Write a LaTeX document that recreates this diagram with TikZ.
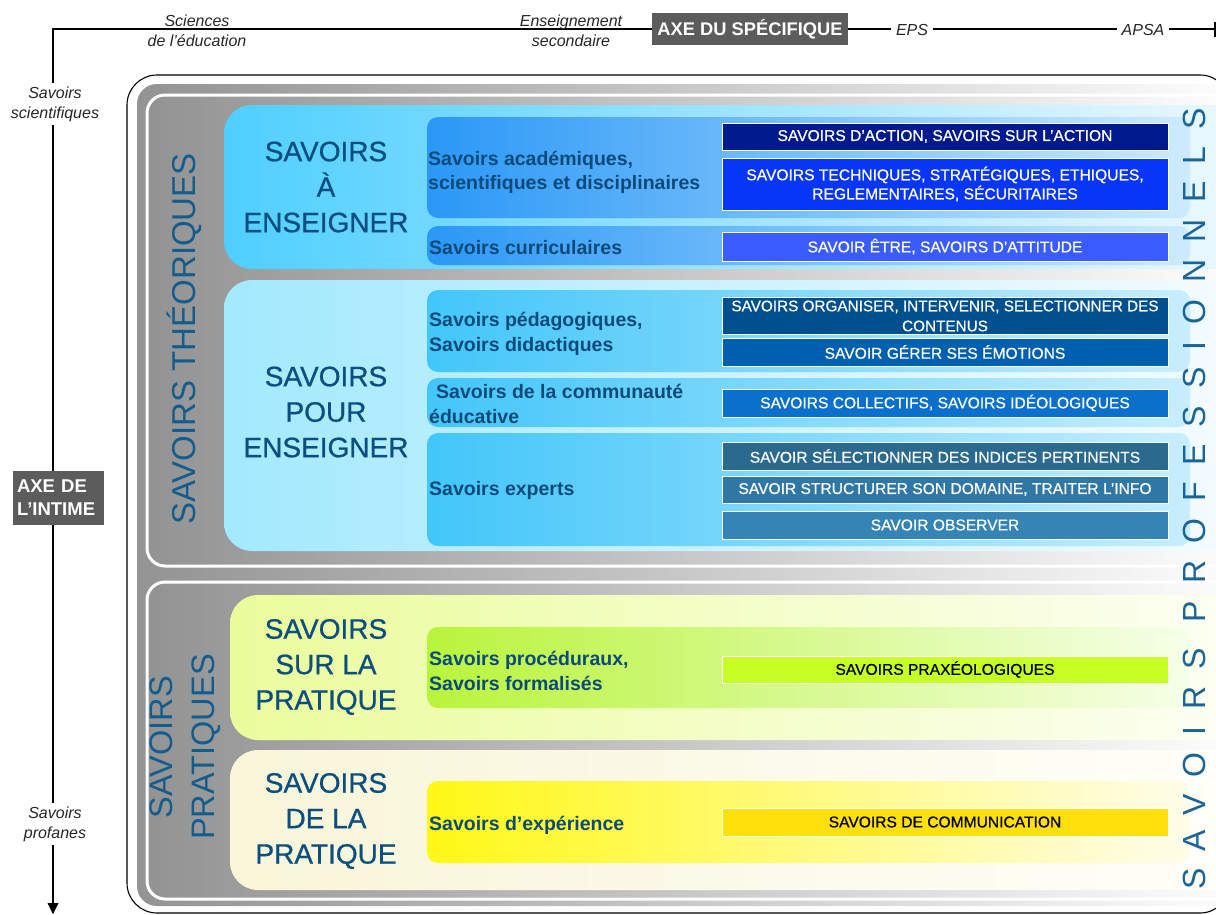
\documentclass[tikz,border=0pt]{standalone}
\usepackage{fontspec}
\setmainfont{Liberation Sans}
\usetikzlibrary{arrows.meta}
\definecolor{tblue}{HTML}{0B4F80}
\definecolor{lblue}{HTML}{0B4A7A}
\definecolor{vblue}{HTML}{125C8E}
\definecolor{pblue}{HTML}{1A6496}
\definecolor{axgray}{HTML}{5C5C5C}
\definecolor{frgray}{HTML}{939393}
\definecolor{bigA}{HTML}{4FCFFF}
\definecolor{bigAr}{HTML}{EEF9FF}
\definecolor{bigB}{HTML}{A3E9FE}
\definecolor{bigBr}{HTML}{F6FCFF}
\definecolor{bigC}{HTML}{EBFC9C}
\definecolor{bigCr}{HTML}{FDFFF4}
\definecolor{bigD}{HTML}{F8F5D8}
\definecolor{bigDr}{HTML}{FFFFFA}
\definecolor{subA}{HTML}{2A98F6}
\definecolor{subAr}{HTML}{CDEBFF}
\definecolor{subB}{HTML}{42C6F9}
\definecolor{subBr}{HTML}{C8EEFF}
\definecolor{subC}{HTML}{B9F43C}
\definecolor{subCr}{HTML}{F6FFE8}
\definecolor{subD}{HTML}{FFF817}
\definecolor{subDr}{HTML}{FFFDEA}
\definecolor{cAct}{HTML}{001A8E}
\definecolor{cTech}{HTML}{0836F8}
\definecolor{cEtre}{HTML}{3A5CFF}
\definecolor{cOrg}{HTML}{005090}
\definecolor{cGer}{HTML}{0060B0}
\definecolor{cColl}{HTML}{0A70CC}
\definecolor{cSel}{HTML}{2A6A8E}
\definecolor{cStr}{HTML}{2F78A6}
\definecolor{cObs}{HTML}{3484B6}
\definecolor{cPrax}{HTML}{C6FF24}
\definecolor{cComm}{HTML}{FFE00C}
\newcommand\myfs[2]{\fontsize{#1}{#2}\selectfont}
\tikzset{
  axisline/.style={line width=1.6pt, black},
  axlab/.style={font=\itshape\myfs{16}{20}, align=center, inner sep=3pt, text=black!85},
  axbox/.style={fill=axgray, text=white, inner sep=0pt},
  bigbox/.style={draw=none, rounded corners=28pt, inner sep=0pt},
  subbox/.style={draw=none, rounded corners=11pt, inner sep=0pt, minimum width=763pt},
  sublab/.style={anchor=west, inner sep=0pt, align=left, text=lblue,
     font=\bfseries\myfs{19.5}{24.5}},
  rbox/.style={draw=white, line width=0.8pt, minimum width=446pt, inner sep=0pt,
     text=white, align=center, font=\myfs{15.6}{19}\addfontfeature{FakeBold=0.6}},
  title/.style={text=tblue, align=center, font=\myfs{28}{35.5}\addfontfeature{FakeBold=0.8}, inner sep=0pt},
  vtitle/.style={text=vblue, align=center, rotate=90, inner sep=0pt},
}
\begin{document}
\begin{tikzpicture}[x=1pt,y=-1pt]
\useasboundingbox (0,0) rectangle (1216,914);
\begin{scope}
\clip (0,0) rectangle (1216,914);
% frames
\node[draw=black, line width=1.1pt, rounded corners=30pt, minimum width=1103pt, minimum height=838pt, inner sep=0pt] (outer) at (678.5,494) {};
\node[draw=none, rounded corners=20pt, minimum width=1113pt, minimum height=822pt, left color=frgray, right color=white, inner sep=0pt] (band) at (693.5,495) {};
\node[draw=white, line width=3pt, rounded corners=18pt, minimum width=1103pt, minimum height=471pt, left color=frgray, right color=white, inner sep=0pt] (theo) at (698.5,330.5) {};
\node[draw=white, line width=3pt, rounded corners=18pt, minimum width=1103pt, minimum height=317pt, left color=frgray, right color=white, inner sep=0pt] (prat) at (698.5,740.5) {};
% big boxes
\node[bigbox, minimum width=1026pt, minimum height=164pt, left color=bigA, right color=bigAr] (aens) at (737,187) {};
\node[bigbox, minimum width=1026pt, minimum height=271pt, left color=bigB, right color=bigBr] (pens) at (737,415.5) {};
\node[bigbox, minimum width=1020pt, minimum height=145pt, left color=bigC, right color=bigCr] (surp) at (740,667.5) {};
\node[bigbox, minimum width=1020pt, minimum height=140pt, left color=bigD, right color=bigDr] (dela) at (740,820) {};
% sub boxes
\node[subbox, minimum height=101pt, left color=subA, right color=subAr] (sacad) at (808.5,167.5) {};
\node[subbox, minimum height=39pt, left color=subA, right color=subAr] (scurr) at (808.5,245.5) {};
\node[subbox, minimum height=82pt, left color=subB, right color=subBr] (sped) at (808.5,331) {};
\node[subbox, minimum height=49pt, left color=subB, right color=subBr] (scomm) at (808.5,402.5) {};
\node[subbox, minimum height=113pt, left color=subB, right color=subBr] (sexp) at (808.5,489.5) {};
\node[subbox, minimum height=81pt, left color=subC, right color=subCr] (sproc) at (808.5,667.5) {};
\node[subbox, minimum height=82pt, left color=subD, right color=subDr] (sexpe) at (808.5,822) {};
% sub box labels
\node[sublab] (lacad) at (428,172.5) {Savoirs académiques,\\scientifiques et disciplinaires};
\node[sublab] (lcurr) at (429,247.5) {Savoirs curriculaires};
\node[sublab] (lped) at (429,334) {Savoirs pédagogiques,\\Savoirs didactiques};
\node[sublab] (lcomm) at (429,404) {\hspace*{7pt}Savoirs de la communauté\\éducative};
\node[sublab] (lexp) at (429,490.5) {Savoirs experts};
\node[sublab] (lproc) at (429,671) {Savoirs procéduraux,\\Savoirs formalisés};
\node[sublab] (lexpe) at (429,825) {Savoirs d’expérience};
% right boxes
\node[rbox, fill=cAct, minimum height=27pt] (ract) at (945,136.5) {SAVOIRS D’ACTION, SAVOIRS SUR L’ACTION};
\node[rbox, fill=cTech, minimum height=52pt] (rtech) at (945,184) {SAVOIRS TECHNIQUES, STRATÉGIQUES, ETHIQUES,\\REGLEMENTAIRES, SÉCURITAIRES};
\node[rbox, fill=cEtre, minimum height=29pt] (retre) at (945,246.5) {SAVOIR ÊTRE, SAVOIRS D’ATTITUDE};
\node[rbox, fill=cOrg, minimum height=37pt, font=\myfs{15.3}{20}\addfontfeature{FakeBold=0.6}] (rorg) at (945,316) {SAVOIRS ORGANISER, INTERVENIR, SELECTIONNER DES\\CONTENUS};
\node[rbox, fill=cGer, minimum height=28pt] (rger) at (945,352) {SAVOIR GÉRER SES ÉMOTIONS};
\node[rbox, fill=cColl, minimum height=28pt] (rcoll) at (945,403) {SAVOIRS COLLECTIFS, SAVOIRS IDÉOLOGIQUES};
\node[rbox, fill=cSel, minimum height=28pt] (rsel) at (945,456) {SAVOIR SÉLECTIONNER DES INDICES PERTINENTS};
\node[rbox, fill=cStr, minimum height=27pt] (rstr) at (945,489.5) {SAVOIR STRUCTURER SON DOMAINE, TRAITER L’INFO};
\node[rbox, fill=cObs, minimum height=28pt] (robs) at (945,525) {SAVOIR OBSERVER};
\node[rbox, fill=cPrax, minimum height=27pt, text=black] (rprax) at (945,669.5) {SAVOIRS PRAXÉOLOGIQUES};
\node[rbox, fill=cComm, minimum height=28pt, text=black] (rcomm) at (945,822) {SAVOIRS DE COMMUNICATION};
% titles
\node[title] (taens) at (326,187) {SAVOIRS\\À\\ENSEIGNER};
\node[title] (tpens) at (326,412) {SAVOIRS\\POUR\\ENSEIGNER};
\node[title] (tsurp) at (326,667) {SAVOIRS\\SUR LA\\PRATIQUE};
\node[title] (tdela) at (326,821) {SAVOIRS\\DE LA\\PRATIQUE};
\node[vtitle, font=\myfs{33}{33}] (vtheo) at (184,339) {SAVOIRS THÉORIQUES};
\node[vtitle, font=\myfs{32.5}{42}] (vprat) at (185,747) {SAVOIRS\\PRATIQUES};
\node[rotate=90, text=pblue, inner sep=0pt, font=\myfs{32}{32}\addfontfeature{LetterSpace=53}] (vpro) at (1194,499) {SAVOIRS PROFESSIONNELS};
\end{scope}
% axes
\coordinate (axR) at (1215,29);
\coordinate (axC) at (53,29);
\coordinate (axB) at (53,913);
\coordinate (tkT) at (1215,22);
\coordinate (tkB) at (1215,37);
\draw[axisline] (axR) -- (axC) -- (axB);
\draw[axisline] (tkT) -- (tkB);
\fill (53,914) -- (47.5,903) -- (58.5,903) -- cycle;
\node[axlab] (sci) at (197,31) {Sciences\\de l’éducation};
\node[axlab] (ens) at (571,31) {Enseignement\\secondaire};
\node[axbox, minimum width=196pt, minimum height=32pt, font=\bfseries\myfs{18.3}{22}] (axspec) at (750,29) {AXE DU SPÉCIFIQUE};
\node[axlab, fill=white, inner xsep=5pt] (eps) at (912,30) {EPS};
\node[axlab, fill=white, inner xsep=5pt] (apsa) at (1143,30) {APSA};
\node[axlab, fill=white, inner ysep=4pt] (ssci) at (55,104) {Savoirs\\scientifiques};
\node[axbox, minimum width=91pt, minimum height=54pt, align=left, text width=83pt, font=\bfseries\myfs{18.5}{23}] (axint) at (58.5,498) {AXE DE\\L’INTIME};
\node[axlab, fill=white, inner ysep=4pt] (sprof) at (55,824) {Savoirs\\profanes};
\end{tikzpicture}
\end{document}
